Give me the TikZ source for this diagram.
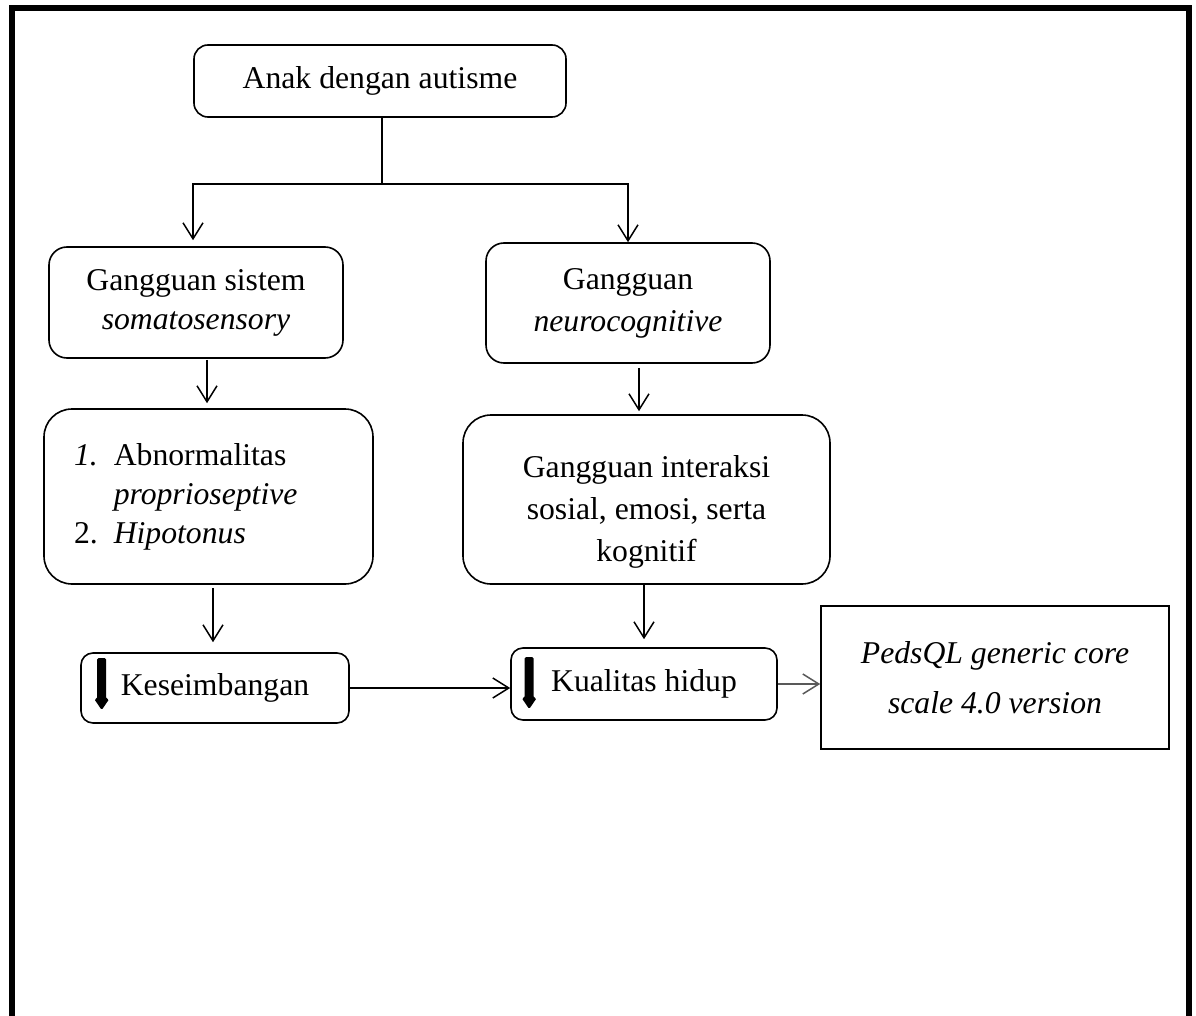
\documentclass[tikz,border=0pt]{standalone}
\usepackage{fontspec}
\setmainfont{Liberation Serif}
\usetikzlibrary{arrows.meta,positioning,calc}
\tikzset{
    % Define style for rounded boxes
    kotak/.style={
           rectangle,
           rounded corners=#1,
           draw=black, line width=1.6pt,
           inner sep=0pt,
           align=center},
    kotak/.default=14pt,
    % Define arrow style
    panah/.style={
           -{Straight Barb[length=16pt,width=20pt]},
           line width=1.5pt},
}
% thick black down arrow in front of a label
\newcommand*{\turun}[1]{\fill[rounded corners=1.5pt] ($(#1)+(-4.5,0)$) -- ++(9,0) -- ++(0,41) -- ++(3,0) -- ++(-7.5,11) -- ++(-7.5,-11) -- ++(3,0) -- cycle;}

\begin{document}
\begin{tikzpicture}[x=1pt,y=-1pt,font=\fontsize{31.7}{39}\selectfont]
\useasboundingbox (0,0) rectangle (1196,1016);
% Outer frame, open at the bottom
\draw[line width=6pt] (11.5,1016) -- (11.5,8.5) -- (1189,8.5) -- (1189,1016);

% First the boxes
\node[kotak, minimum width=372pt, minimum height=72pt] (anak) at (380,81) {Anak dengan autisme};
\node[kotak=18pt, minimum width=294pt, minimum height=111pt] (gss) at (196,302.5) {Gangguan sistem\\\textit{somatosensory}};
\node[kotak=18pt, minimum width=284pt, minimum height=120pt, font=\fontsize{31.7}{42}\selectfont] (gnc) at (628,303) {Gangguan\\\textit{neurocognitive}};
\node[kotak=28pt, minimum width=329pt, minimum height=175pt, text width=269pt, inner xsep=30pt, align=left] (abn) at (208.5,496.5) {\begin{tabular}{@{}l@{\hspace{16pt}}l@{}}\textit{1.} & Abnormalitas\\ & \textit{proprioseptive}\\ 2. & \textit{Hipotonus}\end{tabular}};
\node[kotak=28pt, minimum width=367pt, minimum height=169pt, text height=130pt, font=\fontsize{31.7}{42}\selectfont] (gis) at (646.5,499.5) {Gangguan interaksi\\sosial, emosi, serta\\kognitif};
\node[kotak=12pt, minimum width=268pt, minimum height=70pt] (kes) at (215,688) {Keseimbangan};
\node[kotak=12pt, minimum width=266pt, minimum height=72pt] (kual) at (644,684) {Kualitas hidup};
\node[draw, line width=1.6pt, inner sep=0pt, minimum width=348pt, minimum height=143pt, align=center, font=\fontsize{31.7}{50}\selectfont\itshape] (peds) at (995,677.5) {PedsQL generic core\\scale 4.0 version};

% The down arrows in front of the labels
\coordinate (ikes) at ($(kes.west)+(21.5,-30)$);
\coordinate (ikual) at ($(kual.west)+(19,-27)$);
\turun{ikes}
\turun{ikual}

% Now connect the nodes
\coordinate (cabang) at ($(anak.south)+(2,66)$);
\draw[line width=1.5pt] ([xshift=2pt]anak.south) -- (cabang);
\draw[panah, shorten >=6pt] (cabang) -| ([xshift=-3pt]gss.north);
\draw[panah] (cabang) -| (gnc.north);

\coordinate (p1) at ([xshift=11pt]gss.south);
\draw[panah, shorten <=1pt, shorten >=5pt] (p1) -- (p1 |- abn.north);
\coordinate (p2) at ([xshift=11pt]gnc.south);
\draw[panah, shorten <=4pt, shorten >=3pt] (p2) -- (p2 |- gis.north);
\coordinate (p3) at ([xshift=-2pt]kes.north);
\draw[panah, shorten <=3pt, shorten >=10pt] (p3 |- abn.south) -- (p3);
\draw[panah, shorten >=8pt] (gis.south -| kual.north) -- (kual.north);

\draw[panah] (kes.east) -- (kes.east -| kual.west);
\draw[panah, draw=black!65] (kual.east) -- (kual.east -| peds.west);
\end{tikzpicture}
\end{document}
